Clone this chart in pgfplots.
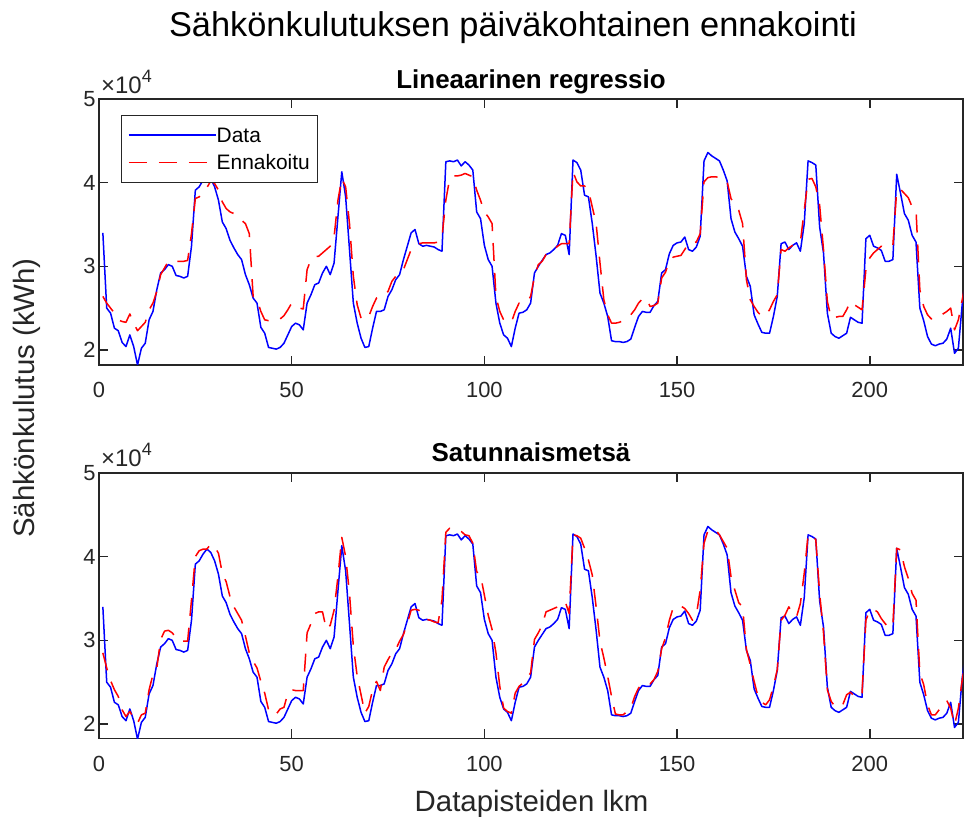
\documentclass[border=0pt]{standalone}
\usepackage{fontspec}
\setmainfont{Liberation Sans}
\usepackage{pgfplots}
\usepackage{pgfplotstable}
\pgfplotsset{compat=1.18}
\definecolor{axgray}{RGB}{38,38,38}

\pgfplotstableread{
x data lin rf
1 34000 26400 28500
2 25000 25600 26700
3 24400 25000 25200
4 22600 24400 24100
5 22300 23600 23300
6 20900 23400 21700
7 20400 23300 20900
8 21800 24300 21500
9 20400 23200 20700
10 18200 22300 20100
11 20200 22800 21100
12 20800 23300 21300
13 23600 24800 24100
14 24600 25600 25900
15 27200 27000 26700
16 29200 29000 30100
17 29600 29800 31100
18 30200 30600 31200
19 30000 30600 30900
20 28900 30600 30300
21 28800 30600 29900
22 28600 30600 29900
23 28800 30700 29900
24 32400 33900 34800
25 39100 38100 40000
26 39500 38300 40700
27 40300 38900 40900
28 40900 39400 40900
29 40500 40200 41500
30 39500 39900 41200
31 37900 39100 40400
32 35300 37700 38000
33 34500 36900 37000
34 33100 36500 35200
35 32200 36300 34000
36 31400 35900 33200
37 30800 35500 32400
38 29000 35100 30500
39 27800 33900 28500
40 26200 26400 27500
41 25600 26000 26700
42 22700 24600 25100
43 22000 23600 23700
44 20300 23500 21700
45 20200 23500 21100
46 20100 23500 21200
47 20300 23700 21800
48 20800 24100 22000
49 21800 24800 23700
50 22800 25600 24100
51 23200 25300 24000
52 23000 25000 24000
53 22400 24900 24000
54 25600 29600 30900
55 26600 30800 32000
56 27800 31200 33200
57 28000 31200 33400
58 29200 31600 33400
59 30000 32000 31300
60 29000 32400 31800
61 30400 33500 33600
62 35900 37900 37600
63 41300 40500 42300
64 38300 39500 40000
65 32000 35100 35600
66 25600 28800 29300
67 23200 25400 25700
68 21400 23800 23500
69 20300 23600 21300
70 20400 24000 22100
71 22600 25200 24100
72 24600 26200 25100
73 24600 26400 24000
74 24800 26500 26800
75 26400 27000 27700
76 27200 28200 28500
77 28400 28800 28900
78 29000 29200 29900
79 30800 29600 30700
80 32400 30800 32000
81 34000 32000 33600
82 34400 32400 33700
83 32700 32700 33600
84 32400 32800 33200
85 32500 32800 32500
86 32400 32800 32400
87 32300 32800 32200
88 32000 32900 32100
89 31800 33500 34800
90 42500 37900 42900
91 42600 40500 43400
92 42500 40800 43200
93 42700 40800 43200
94 42000 40900 43000
95 42500 41100 42600
96 42100 40900 42500
97 41500 40700 41600
98 36500 39100 38200
99 35700 37900 37800
100 32500 36500 35400
101 30800 35900 33000
102 30000 35100 31300
103 25600 26400 28500
104 23200 24600 24500
105 21800 23600 21900
106 21400 23300 21500
107 20400 23300 21300
108 22600 24600 23700
109 24400 25600 24500
110 24500 25600 24900
111 24800 25700 25500
112 25600 26400 26100
113 29200 28800 30100
114 30000 30200 30900
115 30700 30600 31800
116 31400 31400 33400
117 31600 31600 33600
118 32000 32000 33800
119 32500 32400 34000
120 33900 32700 34200
121 33700 32700 34600
122 31400 32700 33200
123 42700 41300 42600
124 42400 40100 42500
125 41500 39600 42200
126 38500 39600 41000
127 38300 39100 39600
128 35100 37100 37800
129 31200 35100 34000
130 26800 30400 29900
131 25600 26000 27900
132 24000 24200 25700
133 21100 23200 23300
134 21000 23200 21200
135 21000 23300 21100
136 20900 23500 21100
137 21000 23800 21500
138 21300 24200 21900
139 22700 24800 23300
140 24000 25600 24300
141 24600 26100 24800
142 24500 26200 24900
143 24500 25200 24800
144 25300 25300 25300
145 25800 25600 26300
146 29200 28600 29000
147 29600 29300 30300
148 31500 30600 32400
149 32500 31100 33900
150 32800 31200 34100
151 32900 31300 34100
152 33500 32000 33800
153 32000 32800 33200
154 31800 32800 32400
155 32300 32900 33000
156 33600 33900 36000
157 42600 40100 41600
158 43600 40600 43100
159 43200 40700 43200
160 42900 40700 43200
161 42600 40600 42600
162 41500 40500 41800
163 40200 40100 41000
164 35700 38100 37600
165 34100 37300 36000
166 33300 36700 34500
167 32400 35100 34000
168 28800 28400 28900
169 27600 26000 27100
170 24200 25200 25100
171 23100 24500 23300
172 22100 24000 22600
173 22000 24200 22300
174 22000 24800 22900
175 24000 25800 24500
176 26400 26600 26500
177 32700 32000 32400
178 32900 31800 33000
179 32000 32200 34000
180 32500 32500 33200
181 32800 32700 32800
182 31800 32900 34400
183 35100 36700 38000
184 42600 40400 42600
185 42400 40500 42600
186 42100 39500 42000
187 34700 37300 35600
188 31600 32000 30900
189 24400 25800 24100
190 22000 23800 22700
191 21600 23900 22100
192 21400 24000 22000
193 21700 24000 22300
194 22000 24800 23500
195 23900 25800 23800
196 23600 25400 23300
197 23300 25100 23200
198 23200 24800 23700
199 33300 29600 32400
200 33700 31000 33600
201 32400 31600 33700
202 32200 32000 33400
203 31900 32400 32600
204 30600 32200 32000
205 30600 32400 31500
206 30800 32500 31700
207 41000 39100 41000
208 38700 39200 40800
209 36300 38700 38800
210 35500 38200 37400
211 33700 37100 35600
212 32900 36800 34800
213 25000 27200 26100
214 23500 25200 24700
215 21600 24200 22300
216 20700 23700 21100
217 20500 23700 21100
218 20700 24000 21700
219 20800 24300 22300
220 21300 24600 22800
221 22600 25000 21900
222 19600 22400 19900
223 20200 23600 21900
224 25500 26000 25300
225 29000 28500 28000
}\tbl

\pgfplotsset{
  myax/.style={
    scale only axis, width=864bp,
    xmin=0, xmax=224.2, ymax=50000,
    xtick={0,50,100,150,200}, xticklabels={0,50,100,150,200},
    ytick={20000,30000,40000,50000}, yticklabels={2,3,4,5},
    minor tick num=0,
    tick align=inside, xtick pos=both, ytick pos=both,
    xticklabel pos=lower, yticklabel pos=left,
    major tick length=9bp,
    axis line style={axgray, line width=1.5bp},
    every tick/.style={axgray, line width=1.5bp},
    tick label style={font=\fontsize{22}{26}\selectfont, text=axgray},
    xticklabel style={yshift=-14bp},
    scaled ticks=false,
  },
  dataline/.style={blue, line width=1.5bp, line join=round},
  predline/.style={red, line width=1.5bp, line join=round, dash pattern=on 18bp off 12bp},
}

\begin{document}
\begin{tikzpicture}
\path[use as bounding box] (0bp,0bp) rectangle (964bp,817bp);

\begin{axis}[myax, at={(99bp,452bp)}, anchor=south west, height=266bp, ymin=18200,
  legend image code/.code={\path (0bp,0bp) -- (87bp,0bp); \draw[#1] (0bp,0bp) -- (80bp,0bp);},
  legend style={at={(rel axis cs:0.0255,0.940)}, anchor=north west,
    draw=axgray, fill=white,
    font=\fontsize{21}{21}\selectfont,
    inner xsep=7bp, inner ysep=12.5bp, row sep=12.3bp,
    nodes={inner sep=0bp, text height=15bp, text depth=0bp},
    cells={anchor=west}},
]
\addplot[dataline] table[x=x, y=data] {\tbl};
\addplot[predline] table[x=x, y=lin] {\tbl};
\legend{Data, Ennakoitu}
\end{axis}

\begin{axis}[myax, at={(99bp,78.7bp)}, anchor=south west, height=265.4bp, ymin=18300]
\addplot[dataline] table[x=x, y=data] {\tbl};
\addplot[predline] table[x=x, y=rf] {\tbl};
\end{axis}

\node[anchor=base, font=\fontsize{34.5}{38}\selectfont] at (513bp,780.3bp) {Sähkönkulutuksen päiväkohtainen ennakointi};
\node[anchor=base, font=\fontsize{26}{30}\selectfont\bfseries] at (531bp,728.7bp) {Lineaarinen regressio};
\node[anchor=base, font=\fontsize{26}{30}\selectfont\bfseries] at (531bp,355.7bp) {Satunnaismetsä};
\node[anchor=base west, text=axgray, inner sep=0bp, font=\fontsize{24}{26}\selectfont] at (101bp,723.3bp) {×10\raisebox{11bp}{\fontsize{18}{20}\selectfont 4}};
\node[anchor=base west, text=axgray, inner sep=0bp, font=\fontsize{24}{26}\selectfont] at (101bp,350.3bp) {×10\raisebox{11bp}{\fontsize{18}{20}\selectfont 4}};
\node[anchor=base, text=axgray, font=\fontsize{29.5}{33}\selectfont] at (531.5bp,5.3bp) {Datapisteiden lkm};
\node[anchor=base, rotate=90, text=axgray, font=\fontsize{29.5}{33}\selectfont] at (34.3bp,419bp) {Sähkönkulutus (kWh)};
\end{tikzpicture}
\end{document}
